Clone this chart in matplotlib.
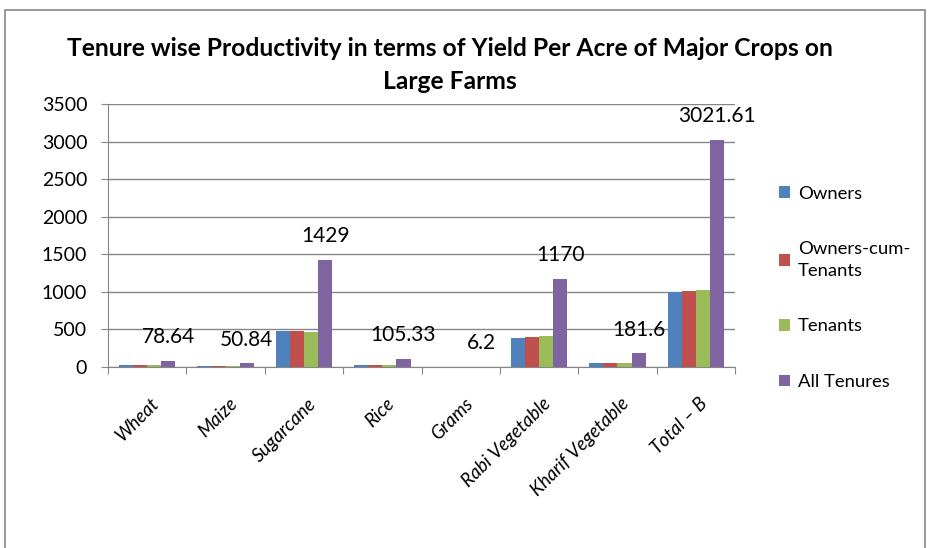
import matplotlib.pyplot as plt
import numpy as np
from matplotlib.patches import Rectangle

crops = ["Wheat", "Maize", "Sugarcane", "Rice", "Grams", "Rabi Vegetable", "Kharif Vegetable", "Total – B"]
owners = [22, 10, 478, 30, 2, 385, 52, 993]
owners_cum_tenants = [25, 12, 480, 33, 2, 395, 55, 1010]
tenants = [24, 11, 468, 32, 2, 408, 56, 1024]
all_tenures = [78.64, 50.84, 1429, 105.33, 6.2, 1170, 181.6, 3021.61]

series = [owners, owners_cum_tenants, tenants, all_tenures]
labels = ["Owners", "Owners-cum-\nTenants", "Tenants", "All Tenures"]
colors = ["#4F81BD", "#C0504D", "#9BBB59", "#8064A2"]

plt.rcParams["font.family"] = ["Lato", "DejaVu Sans"]

fig = plt.figure(figsize=(9.32, 5.48), dpi=100)
ax = fig.add_axes([108 / 932, 1 - 367 / 548, (735 - 108) / 932, (367 - 104) / 548])

x = np.arange(len(crops))
width = 0.18
for i, (vals, lab, col) in enumerate(zip(series, labels, colors)):
    ax.bar(x + (i - 1.5) * width, vals, width, color=col, label=lab)

for xi, v in zip(x, all_tenures):
    ax.annotate(f"{v:g}", (xi + 1.5 * width, v), xytext=(0, 17), textcoords="offset points",
                ha="center", va="center", fontsize=15)

ax.set_xlim(-0.5, len(crops) - 0.5)
ax.set_ylim(0, 3500)
ax.set_yticks(np.arange(0, 3501, 500))
ax.yaxis.grid(True, color="#868686", linewidth=1)
ax.set_axisbelow(True)
ax.set_xticks(np.arange(len(crops) + 1) - 0.5, minor=False)
ax.set_xticklabels([])
ax.set_xticks(x + 0.04, minor=True)
ax.set_xticklabels(crops, minor=True, rotation=45, ha="right", rotation_mode="anchor", fontsize=13.5, style="italic")
ax.tick_params(axis="x", which="minor", length=0, pad=20)
ax.tick_params(axis="x", which="major", length=5, color="#868686")
ax.tick_params(axis="y", length=5, color="#868686", labelsize=14, pad=10)
for s in ["top", "right"]:
    ax.spines[s].set_visible(False)
for s in ["left", "bottom"]:
    ax.spines[s].set_color("#868686")

fig.text(450 / 932, 1 - 65 / 548, "Tenure wise Productivity in terms of Yield Per Acre of Major Crops on\nLarge Farms",
         ha="center", va="center", fontsize=17.7, fontweight="bold", linespacing=1.55)

leg = fig.legend(loc="upper left", bbox_to_anchor=(762 / 932, 1 - 169 / 548), frameon=False,
                 fontsize=13.3, labelspacing=2.15, handlelength=0.6, handleheight=0.6, handletextpad=0.45)
leg.get_texts()[1].set_linespacing(1.4)

fig.patches.append(Rectangle((5 / 932, -0.1), 920 / 932, 1.1 - 10 / 548, transform=fig.transFigure,
                             fill=False, edgecolor="#868686", linewidth=1.2))

fig.savefig("out.png", dpi=100)
